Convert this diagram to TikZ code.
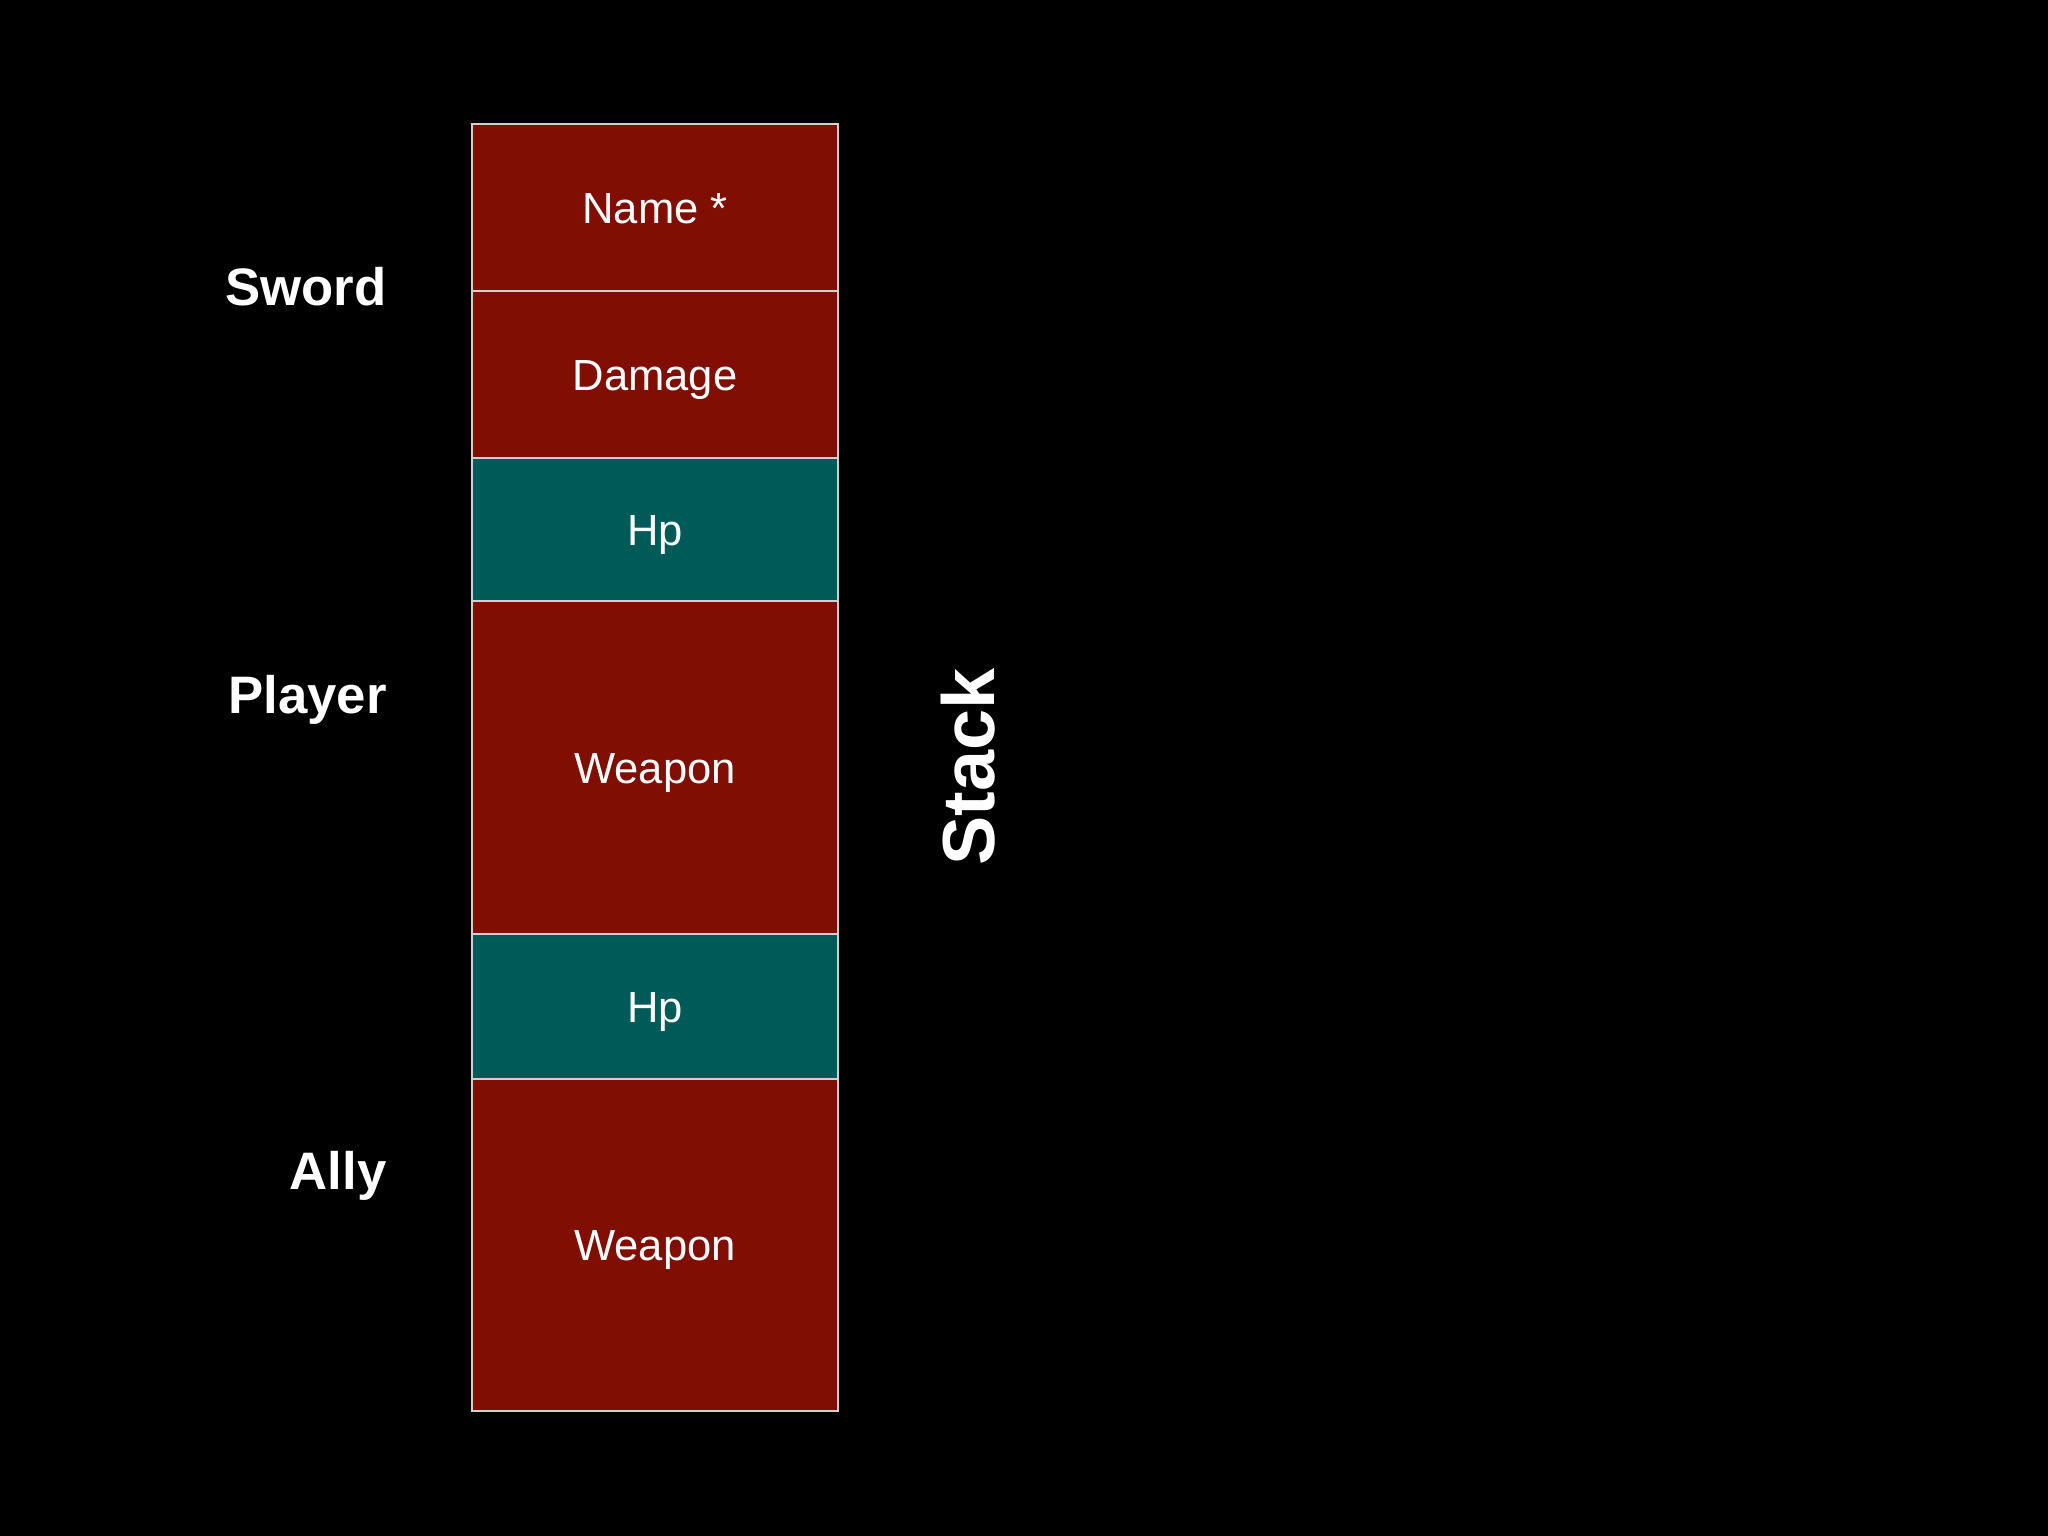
\documentclass[tikz,border=0pt]{standalone}
\usepackage{fontspec}
\setmainfont{Liberation Sans}
\usetikzlibrary{positioning}
\definecolor{fieldred}{RGB}{128,14,3}
\definecolor{fieldteal}{RGB}{0,90,88}
\definecolor{edgegray}{RGB}{208,208,208}
\tikzset{
  cell/.style={draw=edgegray, line width=0.6pt, text=white, minimum width=3.66cm,
    inner sep=0pt, outer sep=0pt, text height=0.9em, text depth=0pt,
    font=\fontsize{12.4}{15}\selectfont},
  redcell/.style={cell, fill=fieldred},
  tealcell/.style={cell, fill=fieldteal},
  owner/.style={text=white, anchor=east, font=\bfseries\fontsize{15}{18}\selectfont}
}
\begin{document}
\begin{tikzpicture}
    \fill[black] (0, 0) rectangle (20.48, -15.36) ;
    \node[redcell, minimum height=1.67cm, anchor=north west] (name) at (4.72, -1.24) {Name *} ;
    \node[redcell, minimum height=1.67cm, below=0pt of name] (damage) {Damage} ;
    \node[tealcell, minimum height=1.43cm, below=0pt of damage] (hp1) {Hp} ;
    \node[redcell, minimum height=3.33cm, below=0pt of hp1] (weapon1) {Weapon} ;
    \node[tealcell, minimum height=1.45cm, below=0pt of weapon1] (hp2) {Hp} ;
    \node[redcell, minimum height=3.32cm, below=0pt of hp2] (weapon2) {Weapon} ;
    \node[owner] (sword) at (3.99, -2.87) {Sword} ;
    \node[owner] (player) at (3.99, -7.00) {Player} ;
    \node[owner] (ally) at (3.99, -11.76) {Ally} ;
    \node[text=white, rotate=90, font=\bfseries\fontsize{21}{24}\selectfont] (stack) at (9.68, -7.67) {Stack} ;
  \end{tikzpicture}
\end{document}
